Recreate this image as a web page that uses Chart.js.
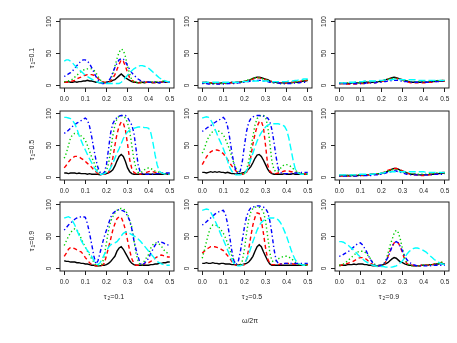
<!DOCTYPE html>
<html>
<head>
<meta charset="utf-8">
<script src="https://cdn.jsdelivr.net/npm/chart.js@4.4.0/dist/chart.umd.min.js"></script>
<style>
  html, body { margin: 0; padding: 0; background: #fff; }
  #plot { position: relative; width: 457px; height: 343px; overflow: hidden; font-family: "Liberation Sans", Arial, sans-serif; color: #222; }
  #plot canvas { position: absolute; }
  .lbl { position: absolute; font-size: 7px; white-space: nowrap; line-height: 1; }
  .lbl sub { font-size: 70%; vertical-align: -0.3em; margin-left: 1px; }
  .rot { transform: translate(-50%, -50%) rotate(-90deg); }
  .hor { transform: translate(-50%, -50%); }
</style>
</head>
<body>
<div id="plot"></div>
<script>
const freq = [0.00,0.01,0.02,0.03,0.04,0.05,0.06,0.07,0.08,0.09,0.10,
  0.11,0.12,0.13,0.14,0.15,0.16,0.17,0.18,0.19,0.20,
  0.21,0.22,0.23,0.24,0.25,0.26,0.27,0.28,0.29,0.30,
  0.31,0.32,0.33,0.34,0.35,0.36,0.37,0.38,0.39,0.40,
  0.41,0.42,0.43,0.44,0.45,0.46,0.47,0.48,0.49,0.50];
const xTicks = [0, 0.1, 0.2, 0.3, 0.4, 0.5];
const yTicks = [0, 50, 100];
const tau1 = ["0.1", "0.5", "0.9"];
const tau2 = ["0.1", "0.5", "0.9"];

// row 1 (tau1 = 0.1)
const r1c1Black = [5,5,6,5,5,6,5,6,6,7,7, 8,7,7,6,5,5,4,5,4,5, 6,6,8,9,12,15,18,15,12,10, 8,6,5,5,4,5,5,4,5,5, 5,4,5,5,4,5,6,5,5,5];
const r1c1Red   = [5,5,5,6,7,8,10,12,13,15,16, 17,17,17,16,14,11,8,6,5,4, 5,7,11,17,25,33,40,38,30,20, 12,8,6,5,4,4,5,5,5,5, 5,5,4,5,5,5,6,6,5,6];
const r1c1Green = [6,6,7,8,10,13,16,19,22,24,25, 26,26,26,24,20,14,9,6,4,4, 6,10,18,30,42,52,57,55,45,30, 18,9,6,5,4,4,5,5,5,5, 5,6,6,5,5,6,7,6,6,7];
const r1c1Blue  = [14,16,18,20,23,27,31,35,38,40,40, 38,34,28,21,14,9,5,3,3,4, 7,12,20,28,35,40,42,41,37,31, 25,20,16,13,10,8,7,6,6,5, 5,5,5,5,4,5,5,5,5,5];
const r1c1Cyan  = [38,40,40,38,35,31,28,25,22,19,16, 14,12,10,8,6,5,4,4,3,3, 3,3,3,3,3,3,5,8,12,16, 20,23,26,28,30,31,31,30,29,27, 24,21,18,15,12,10,8,7,6,5];

const r1c2Black = [4,4,5,4,4,3,4,4,3,4,4, 4,4,4,5,4,5,5,5,6,6, 7,8,9,11,12,13,13,12,11,10, 9,7,6,5,5,4,4,4,4,4, 4,4,5,5,5,5,6,7,7,8];
const r1c2Red   = [5,5,5,4,4,4,4,3,3,3,3, 4,4,4,4,4,5,5,5,6,6, 7,8,9,10,11,12,12,11,10,9, 8,7,6,5,4,4,4,3,3,4, 4,5,5,5,6,6,7,7,8,8];
const r1c2Green = [4,4,4,3,3,3,3,3,3,3,3, 3,3,4,4,4,4,5,5,6,7, 8,9,10,11,12,12,12,11,10,9, 8,6,5,4,4,4,3,3,3,3, 4,4,4,5,5,6,7,8,9,9];
const r1c2Blue  = [3,3,3,2,2,2,2,2,2,2,2, 2,3,3,3,3,3,4,4,5,5, 6,6,7,7,8,8,8,8,7,7, 6,5,5,4,4,4,3,3,3,3, 3,3,3,4,4,4,5,5,5,5];
const r1c2Cyan  = [5,5,5,5,5,5,5,5,5,5,5, 5,5,5,5,5,5,5,6,6,6, 6,7,7,7,7,7,7,7,7,7, 7,7,6,6,6,6,6,6,6,6, 7,7,7,8,8,9,9,10,10,10];

const r1c3Black = [3,3,3,3,3,3,4,4,4,4,4, 4,5,5,5,5,5,5,6,6,7, 8,9,10,11,12,13,12,11,10,9, 8,7,6,5,5,5,5,5,5,5, 5,5,6,6,6,7,7,7,7,7];
const r1c3Red   = [3,3,3,2,2,2,2,2,2,3,3, 3,3,3,4,4,4,4,5,5,6, 7,8,9,10,11,11,11,10,9,8, 7,6,5,4,4,4,4,4,4,4, 4,5,5,5,6,6,7,7,8,7];
const r1c3Green = [4,4,4,4,4,4,4,4,4,4,4, 4,5,5,5,5,5,6,6,6,7, 8,9,10,10,11,11,11,10,9,8, 7,7,6,6,6,6,6,6,6,6, 6,6,7,7,7,7,8,8,8,8];
const r1c3Blue  = [3,3,3,3,3,3,3,3,3,3,3, 3,3,4,4,4,4,4,5,5,5, 6,6,7,7,8,8,8,8,7,7, 6,6,5,5,5,5,5,5,5,5, 5,5,6,6,6,6,6,7,7,7];
const r1c3Cyan  = [4,4,4,4,5,5,5,5,6,6,6, 6,7,7,7,7,7,7,8,8,8, 8,9,9,9,9,10,10,10,9,9, 9,9,9,9,9,9,8,8,8,8, 8,8,8,8,8,8,8,8,8,8];

// row 2 (tau1 = 0.5)
const r2c1Black = [7,7,6,7,7,7,6,7,6,6,6, 5,6,5,5,5,5,4,5,5,6, 7,9,12,18,26,33,36,33,25,15, 9,6,5,5,5,5,5,5,5,5, 5,5,5,5,5,5,5,6,5,5];
const r2c1Red   = [15,19,24,28,31,33,33,32,30,28,25, 22,19,16,12,9,6,5,5,5,5, 8,15,30,50,68,80,87,85,74,52, 28,14,8,6,5,5,6,7,8,9, 10,9,8,8,7,7,6,6,6,6];
const r2c1Green = [30,38,50,62,67,69,69,68,65,62,58, 50,41,32,24,16,9,6,5,6,10, 22,42,65,82,92,96,97,96,93,85, 73,50,28,14,8,7,9,12,14,15, 14,12,10,9,8,7,6,6,5,5];
const r2c1Blue  = [69,71,74,77,80,83,85,87,89,91,93, 90,80,64,45,28,15,8,5,8,20, 45,70,84,90,94,96,97,97,97,94, 88,82,70,45,20,8,6,5,5,5, 5,5,6,6,6,6,7,7,7,7];
const r2c1Cyan  = [94,94,93,92,89,84,76,66,58,50,43, 36,29,23,17,12,7,5,5,6,8, 10,15,22,30,38,45,53,61,67,71, 74,76,77,78,79,79,79,78,78,77, 70,55,36,20,10,7,6,5,5,5];

const r2c2Black = [8,8,7,8,9,8,9,8,9,8,8, 7,8,7,6,6,5,6,6,7,8, 10,13,17,23,30,35,36,33,27,20, 13,8,6,5,5,5,5,5,6,5, 5,5,6,5,5,5,6,5,5,5];
const r2c2Red   = [20,26,32,37,40,42,43,43,42,40,37, 33,28,23,18,14,10,7,5,5,5, 8,15,32,52,68,80,87,88,78,50, 20,10,7,6,6,7,8,9,10,10, 10,9,9,8,8,7,6,6,5,5];
const r2c2Green = [38,45,55,63,68,72,74,74,72,70,67, 60,52,43,33,22,14,9,6,5,6, 12,25,45,64,82,92,96,97,97,95, 80,55,25,12,9,10,14,18,20,20, 19,17,14,11,9,7,6,6,5,5];
const r2c2Blue  = [72,74,77,79,81,84,86,88,90,92,94, 90,80,62,40,22,10,6,10,25,50, 72,86,92,95,96,97,97,97,96,95, 93,88,75,55,32,14,8,6,6,6, 6,6,7,7,7,7,8,8,8,8];
const r2c2Cyan  = [93,94,95,94,90,84,76,68,60,53,45, 36,26,16,10,6,4,4,4,5,6, 10,18,28,38,48,57,64,70,75,79, 82,83,84,84,84,84,83,82,80,74, 62,45,28,14,8,6,5,5,5,5];

const r2c3Black = [3,3,3,3,3,3,3,3,3,3,4, 4,4,4,4,5,5,5,5,6,6, 7,8,10,11,13,14,14,13,11,10, 9,7,6,5,5,5,4,4,4,4, 4,4,5,5,5,5,6,6,7,7];
const r2c3Red   = [2,2,2,2,2,2,2,2,3,3,3, 3,3,4,4,4,4,5,5,6,7, 8,9,11,12,13,14,14,13,12,10, 8,7,6,5,4,4,4,4,3,3, 4,4,4,5,5,6,6,7,8,8];
const r2c3Green = [3,3,3,3,3,3,3,3,3,4,4, 4,4,4,4,5,5,5,6,6,7, 8,9,10,11,12,12,12,11,10,9, 8,7,6,6,5,5,5,5,5,5, 5,5,6,6,6,7,7,7,7,7];
const r2c3Blue  = [2,2,2,2,2,2,2,2,2,2,3, 3,3,3,3,3,4,4,4,5,5, 6,7,8,9,9,10,10,9,8,7, 6,5,5,4,4,4,4,4,4,4, 4,4,4,4,5,5,5,5,5,5];
const r2c3Cyan  = [4,4,4,4,4,4,4,4,4,5,5, 5,5,5,5,5,5,6,6,6,7, 7,8,8,9,9,9,9,9,9,9, 9,9,9,9,9,9,9,9,9,9, 8,8,8,8,8,8,8,8,8,8];

// row 3 (tau1 = 0.9)
const r3c1Black = [12,11,11,10,10,10,9,9,8,8,7, 7,6,5,5,4,4,4,5,5,6, 8,11,15,19,27,32,34,30,24,18, 12,8,6,5,5,5,5,5,5,5, 6,6,7,7,8,8,9,9,10,10];
const r3c1Red   = [19,24,30,33,32,31,29,27,26,22,17, 13,9,6,5,4,4,4,5,8,20, 33,46,60,70,78,81,80,72,60,44, 28,15,8,5,5,5,6,7,8,9, 11,13,16,18,20,21,20,19,18,18];
const r3c1Green = [36,43,50,56,60,62,60,55,47,40,33, 27,21,15,10,5,4,5,7,20,40, 60,74,81,87,91,93,94,93,91,85, 75,65,45,24,12,5,6,12,17,22, 32,37,40,40,38,35,30,26,24,22];
const r3c1Blue  = [60,64,68,71,74,77,79,80,81,81,80, 70,55,38,20,7,12,25,38,50,60, 70,80,86,89,91,92,91,90,88,82, 75,62,44,30,18,8,5,8,12,16, 24,30,36,41,42,41,40,38,37,36];
const r3c1Cyan  = [79,80,81,79,74,68,60,52,44,38,33, 28,24,19,13,7,6,9,15,22,28, 33,37,39,40,42,46,51,55,57,57, 55,53,51,49,46,43,39,35,31,27, 23,19,15,11,9,7,6,5,5,5];

const r3c2Black = [8,8,9,8,8,9,8,8,7,8,8, 7,7,7,6,6,6,5,6,6,7, 8,10,14,19,27,34,37,34,26,19, 12,7,5,5,5,5,5,5,5,5, 5,5,5,5,5,5,5,5,5,6];
const r3c2Red   = [24,27,30,32,34,34,34,33,32,30,28, 24,20,16,11,7,5,5,5,5,6, 14,30,50,68,80,87,86,75,55,32, 15,8,6,6,6,6,7,7,8,8, 8,8,7,7,7,6,6,6,6,6];
const r3c2Green = [16,28,42,55,64,68,68,67,64,60,55, 48,40,30,20,12,6,5,6,12,30, 55,76,88,94,96,96,96,94,88,75, 50,25,12,10,12,15,17,18,19,19, 18,16,13,10,8,6,6,5,5,5];
const r3c2Blue  = [68,70,73,76,79,82,85,87,89,90,91, 85,70,50,28,12,6,10,25,45,65, 81,90,95,96,97,98,98,97,96,94, 88,75,55,30,13,8,7,7,8,8, 8,8,8,8,8,8,8,8,8,8];
const r3c2Cyan  = [91,92,93,92,88,82,75,68,60,52,45, 37,29,21,14,8,5,4,4,5,8, 14,22,32,42,51,60,67,72,75,77, 78,79,79,79,78,76,72,66,58,50, 40,30,21,14,9,7,6,5,5,5];

const r3c3Black = [4,5,5,5,6,6,6,7,6,7,7, 7,6,6,5,5,4,4,4,5,5, 6,7,9,12,15,17,16,13,10,9, 7,6,5,5,4,4,4,4,5,5, 5,5,6,6,6,7,7,8,7,7];
const r3c3Red   = [5,5,6,7,8,9,10,12,14,16,17, 17,16,14,11,8,6,5,4,4,4, 6,10,18,27,34,40,42,40,33,24, 14,8,6,5,5,4,4,4,5,5, 5,5,6,6,7,7,8,9,10,10];
const r3c3Green = [5,6,7,9,12,15,18,21,24,26,27, 27,26,23,19,14,9,6,5,4,4, 6,12,22,35,45,55,60,56,45,30, 17,9,5,4,4,4,4,4,5,5, 5,5,6,6,7,7,8,9,10,10];
const r3c3Blue  = [19,20,22,24,26,28,31,34,37,39,40, 37,32,26,19,13,8,5,4,4,5, 7,11,17,25,34,40,42,40,34,27, 20,14,10,8,6,5,4,4,4,4, 4,4,4,5,5,5,5,5,5,5];
const r3c3Cyan  = [42,42,41,39,37,34,31,28,25,21,18, 15,12,10,8,6,5,4,3,3,3, 3,2,2,2,2,3,4,6,9,12, 17,22,26,29,31,32,32,31,30,28, 26,23,20,17,14,12,10,8,7,6];

const panels = [
  [[r1c1Black, r1c1Red, r1c1Green, r1c1Blue, r1c1Cyan],
   [r1c2Black, r1c2Red, r1c2Green, r1c2Blue, r1c2Cyan],
   [r1c3Black, r1c3Red, r1c3Green, r1c3Blue, r1c3Cyan]],
  [[r2c1Black, r2c1Red, r2c1Green, r2c1Blue, r2c1Cyan],
   [r2c2Black, r2c2Red, r2c2Green, r2c2Blue, r2c2Cyan],
   [r2c3Black, r2c3Red, r2c3Green, r2c3Blue, r2c3Cyan]],
  [[r3c1Black, r3c1Red, r3c1Green, r3c1Blue, r3c1Cyan],
   [r3c2Black, r3c2Red, r3c2Green, r3c2Blue, r3c2Cyan],
   [r3c3Black, r3c3Red, r3c3Green, r3c3Blue, r3c3Cyan]]
];

// R style lty 1..5 with palette black, red, green3, blue, cyan
const lineStyles = [
  { color: "#000000", dash: [] },
  { color: "#FF0000", dash: [4, 3] },
  { color: "#00CD00", dash: [1.3, 2.5] },
  { color: "#0000FF", dash: [1.3, 2.5, 4, 2.5] },
  { color: "#00FFFF", dash: [7, 3] }
];

const colLeft = [60, 198, 335];
const rowTop = [19, 111, 202];
const boxW = 114, boxH = 69;
const padL = 36, padT = 8, padR = 8, padB = 22;
const axisColor = "#222";
const tickFont = { family: "'Liberation Sans', Arial, sans-serif", size: 6.5 };

const plot = document.getElementById("plot");

const boxPlugin = {
  id: "box",
  afterDraw(chart) {
    const { ctx, chartArea: a } = chart;
    ctx.save();
    ctx.strokeStyle = axisColor;
    ctx.lineWidth = 1;
    ctx.strokeRect(a.left, a.top, a.right - a.left, a.bottom - a.top);
    ctx.restore();
  }
};

function axisGrid() {
  return { display: true, drawOnChartArea: false, drawTicks: true, tickLength: 4, color: axisColor, tickColor: axisColor, lineWidth: 1 };
}

function makePanel(row, col) {
  const canvas = document.createElement("canvas");
  const w = padL + boxW + padR, h = padT + boxH + padB;
  canvas.width = w;
  canvas.height = h;
  canvas.style.width = w + "px";
  canvas.style.height = h + "px";
  canvas.style.left = (colLeft[col] - padL) + "px";
  canvas.style.top = (rowTop[row] - padT) + "px";
  plot.appendChild(canvas);

  const datasets = panels[row][col].map((vals, i) => ({
    data: freq.map((f, k) => ({ x: f, y: vals[k] })),
    borderColor: lineStyles[i].color,
    borderDash: lineStyles[i].dash,
    borderWidth: 1.4,
    pointRadius: 0,
    fill: false,
    tension: 0,
    order: 5 - i
  }));

  new Chart(canvas, {
    type: "line",
    data: { datasets: datasets },
    options: {
      responsive: false,
      animation: false,
      devicePixelRatio: 1,
      events: [],
      layout: { padding: { left: 0, top: padT, right: padR, bottom: 0 } },
      plugins: { legend: { display: false }, tooltip: { enabled: false } },
      scales: {
        x: {
          type: "linear", min: -0.02, max: 0.52,
          afterBuildTicks: s => { s.ticks = xTicks.map(v => ({ value: v })); },
          afterFit: s => { s.height = padB; },
          grid: axisGrid(),
          border: { display: false },
          ticks: { font: tickFont, color: axisColor, padding: 3.5, maxRotation: 0, autoSkip: false, callback: v => v.toFixed(1) }
        },
        y: {
          type: "linear", min: -4, max: 104,
          afterBuildTicks: s => { s.ticks = yTicks.map(v => ({ value: v })); },
          afterFit: s => { s.width = padL; },
          grid: axisGrid(),
          border: { display: false },
          ticks: { font: tickFont, color: axisColor, padding: 1.5, minRotation: 90, maxRotation: 90, crossAlign: "center", autoSkip: false, callback: v => String(v) }
        }
      }
    },
    plugins: [boxPlugin]
  });
}

for (let r = 0; r < 3; r++) {
  for (let c = 0; c < 3; c++) {
    makePanel(r, c);
  }
}

function addLabel(html, x, y, cls) {
  const d = document.createElement("div");
  d.className = "lbl " + cls;
  d.innerHTML = html;
  d.style.left = x + "px";
  d.style.top = y + "px";
  plot.appendChild(d);
}

tau1.forEach((t, r) => addLabel("τ<sub>1</sub>=" + t, 33, rowTop[r] + boxH / 2 + 4, "rot"));
tau2.forEach((t, c) => addLabel("τ<sub>2</sub>=" + t, colLeft[c] + boxW / 2 - 3, 298, "hor"));
addLabel("ω/2π", 250, 320, "hor");
</script>
</body>
</html>
